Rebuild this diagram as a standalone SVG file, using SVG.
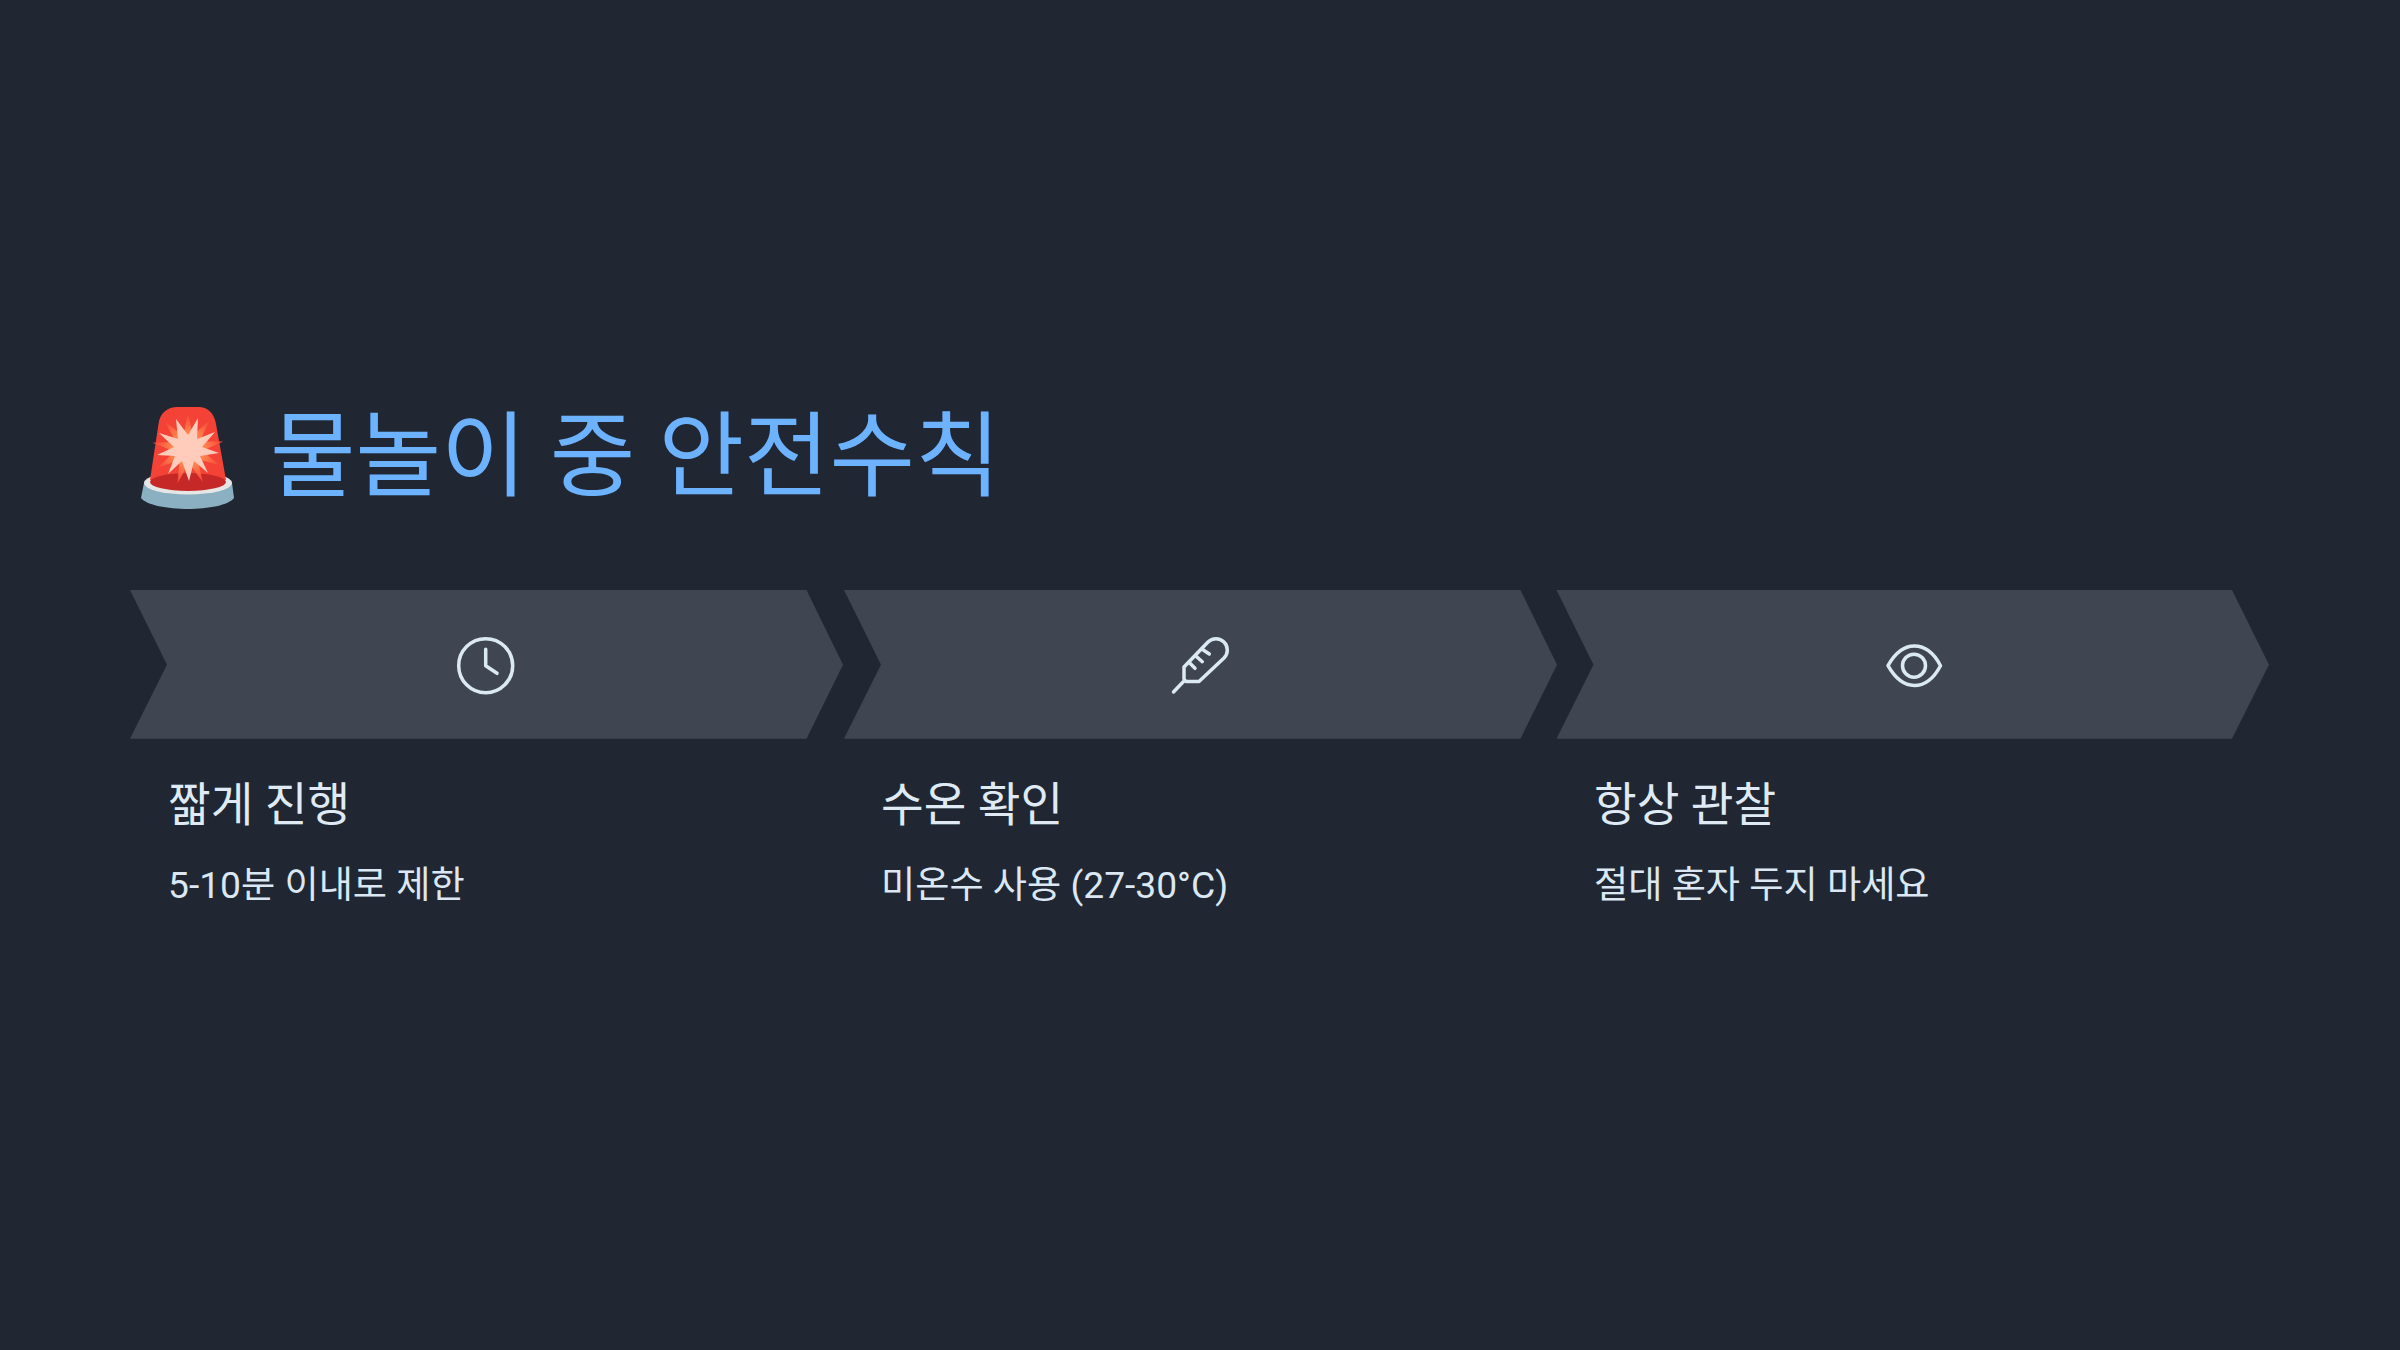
<svg xmlns="http://www.w3.org/2000/svg" width="2400" height="1350" viewBox="0 0 2400 1350">
<defs>
<style>
.chev{fill:#404552}
.ic{fill:none;stroke:#dbe9f3;stroke-width:3.500;stroke-linecap:round;stroke-linejoin:round}
text{font-family:Roboto,"Noto Sans CJK KR",sans-serif}
.h{font-size:46.400px;fill:#dfeaf4}
.d{font-size:37.200px;fill:#dbe8f3}
.t{font-size:93px;fill:#6cb2ff}
</style>
<radialGradient id="rayfill" gradientUnits="userSpaceOnUse" cx="0" cy="0" r="36"><stop offset="0.4" stop-color="#ff8a50"/><stop offset="1" stop-color="#f44336"/></radialGradient>
<polygon id="ray" points="0,-36 5,-12 -5,-12" fill="url(#rayfill)"/>
</defs>
<rect width="2400" height="1350" fill="#202733"/>
<g id="title">
<g id="emoji">
<path d="M144 483 L141 498 C146 505 168 509 188 509 C208 509 229 505 234 498 L232 483Z" fill="#8bb0c1"/>
<ellipse cx="188" cy="483" rx="44" ry="11.500" fill="#e6e6e6"/>
<path d="M150 480 L158.500 424 C160 413 167 407 178 407 L198 407 C208 407 214 413 216 424 L226 480Z" fill="#f44336"/>
<ellipse cx="188" cy="482" rx="38" ry="9" fill="#c62828"/>
<g transform="translate(188 449)">
<use href="#ray"/><use href="#ray" transform="rotate(37)"/><use href="#ray" transform="rotate(78)"/><use href="#ray" transform="rotate(117)"/><use href="#ray" transform="rotate(156)"/><use href="#ray" transform="rotate(197)"/><use href="#ray" transform="rotate(238)"/><use href="#ray" transform="rotate(280)"/><use href="#ray" transform="rotate(320)"/>
</g>
<polygon points="176,419 188,435 198,418 197,439 215,432 202,447 219,453 200,456 208,473 194,461 189,481 182,461 168,474 175,456 157,455 174,447 159,433 178,439" fill="#ffccbc"/>
</g>
<text class="t" x="270" y="489">물놀이 중 안전수칙</text>
</g>
<g id="step1">
<polygon class="chev" points="130,590 806.500,590 843,664.700 806.500,738.700 130,738.700 167,664.700"/>
<g id="clock-icon"><circle class="ic" cx="485.700" cy="665.700" r="27"/><path class="ic" d="M485.700 649.300V665.700L497 673.300"/></g>
<text class="h" x="168" y="821">짧게 진행</text>
<text class="d" x="168" y="898">5-10분 이내로 제한</text>
</g>
<g id="step2">
<polygon class="chev" points="844,590 1520.500,590 1557,664.700 1520.500,738.700 844,738.700 881,664.700"/>
<g id="thermometer-icon"><path class="ic" d="M1173.500 692L1183.500 681.500M1184 679V667L1208 642A11 11 0 0 1 1224 658L1199 681.500H1186ZM1190 663.300L1195 668.300M1196.700 656.700L1202.300 661.700M1203.300 650L1209.300 654"/></g>
<text class="h" x="881" y="821">수온 확인</text>
<text class="d" x="881" y="898">미온수 사용 (27-30°C)</text>
</g>
<g id="step3">
<polygon class="chev" points="1556.500,590 2232,590 2269,664.700 2232,738.700 1556.500,738.700 1593.500,664.700"/>
<g id="eye-icon"><path class="ic" d="M1888 665.700C1895 653 1904 646 1914.300 646C1925 646 1934 653 1940.500 665.700C1934 678 1925 685.500 1914.300 685.500C1904 685.500 1895 678 1888 665.700Z"/><circle class="ic" cx="1914" cy="665.700" r="11.500"/></g>
<text class="h" x="1594" y="821">항상 관찰</text>
<text class="d" x="1594" y="898">절대 혼자 두지 마세요</text>
</g>
</svg>
